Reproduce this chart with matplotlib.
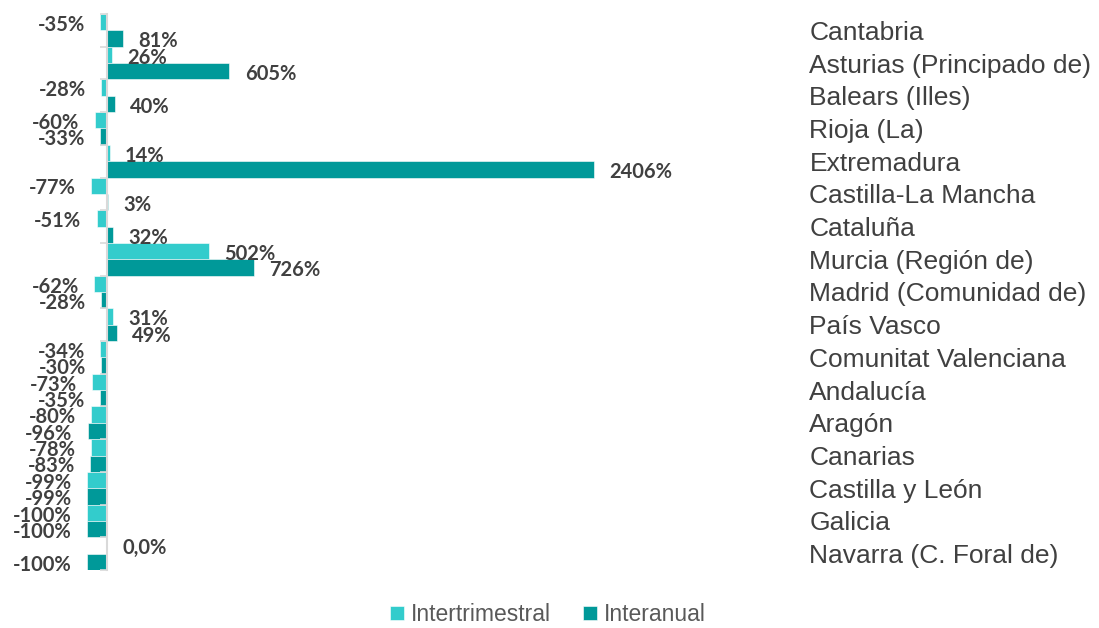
import matplotlib
matplotlib.use('Agg')
import matplotlib.pyplot as plt
import numpy as np

# Datos
regiones = ['Cantabria', 'Asturias (Principado de)', 'Balears (Illes)', 'Rioja (La)',
            'Extremadura', 'Castilla-La Mancha', 'Cataluña', 'Murcia (Región de)',
            'Madrid (Comunidad de)', 'País Vasco', 'Comunitat Valenciana', 'Andalucía',
            'Aragón', 'Canarias', 'Castilla y León', 'Galicia', 'Navarra (C. Foral de)']
intertrimestral = [-35, 26, -28, -60, 14, -77, -51, 502, -62, 31, -34, -73, -80, -78, -99, -100, 0]
interanual = [81, 605, 40, -33, 2406, 3, 32, 726, -28, 49, -30, -35, -96, -83, -99, -100, -100]

c_inter = '#33CCCC'
c_anual = '#009999'
gris = '#404040'

fig = plt.figure(figsize=(10.99, 6.28), dpi=100)
# cero en x=107px, 0.2024 px por %
left_px, right_px = 5, 790
escala = 0.2024
ax = fig.add_axes([left_px / 1099, 1 - 570 / 628, (right_px - left_px) / 1099, 556 / 628])
ax.set_xlim(-(107 - left_px) / escala, (right_px - 107) / escala)

y = np.arange(len(regiones))
h = 0.5
b1 = ax.barh(y - h / 2, intertrimestral, height=h, color=c_inter, edgecolor='white', linewidth=0.4,
             label='Intertrimestral')
b2 = ax.barh(y + h / 2, interanual, height=h, color=c_anual, edgecolor='white', linewidth=0.4,
             label='Interanual')
ax.set_ylim(len(regiones) - 0.5, -0.5)

# etiquetas de datos
for barras, vals in ((b1, intertrimestral), (b2, interanual)):
    for bar, v in zip(barras, vals):
        txt = '0,0%' if v == 0 else f'{v:.0f}%'
        yc = bar.get_y() + bar.get_height() / 2
        if v >= 0:
            ax.annotate(txt, (v, yc), xytext=(11, -2), textcoords='offset points',
                        ha='left', va='center', fontsize=14.5, fontweight='bold',
                        color=gris, family='Lato')
        else:
            ax.annotate(txt, (v, yc), xytext=(-11, -2), textcoords='offset points',
                        ha='right', va='center', fontsize=14.5, fontweight='bold',
                        color=gris, family='Lato')

# eje vertical en cero
for s in ('top', 'right', 'bottom'):
    ax.spines[s].set_visible(False)
ax.spines['left'].set_position(('data', 0))
ax.spines['left'].set_color('#d9d9d9')
ax.spines['left'].set_linewidth(1.5)
ax.set_xticks([])

ax.set_yticks(y)
ax.set_yticklabels(regiones, fontsize=19, color=gris, family='Liberation Sans')
ax.set_yticks(np.arange(len(regiones) + 1) - 0.5, minor=True)
ax.tick_params(axis='y', which='major', left=False, right=True, labelleft=False,
               labelright=True, length=0, pad=14)
ax.tick_params(axis='y', which='minor', left=True, right=False, length=5,
               color='#d9d9d9', width=1.2)

leg = fig.legend(handles=[b1, b2], loc='lower center', bbox_to_anchor=(548 / 1099, -0.03),
                 ncol=2, frameon=False, handlelength=0.6, handleheight=0.6,
                 handletextpad=0.3, columnspacing=1.4,
                 prop={'family': 'Liberation Sans', 'size': 16.5})
for t in leg.get_texts():
    t.set_color('#595959')

fig.savefig('out.png', dpi=100)
